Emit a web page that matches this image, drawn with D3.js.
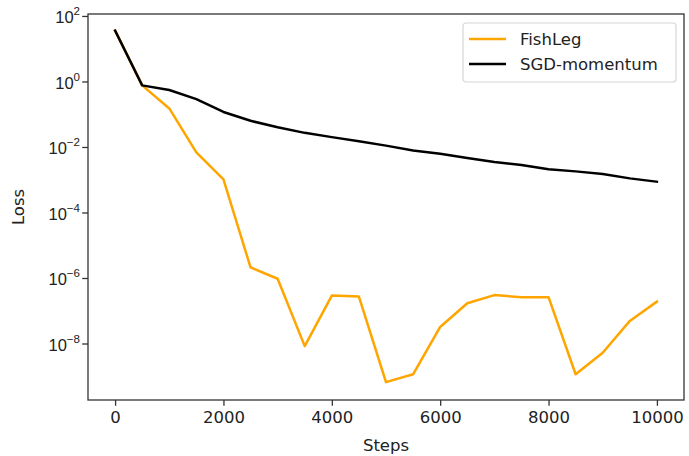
<!DOCTYPE html>
<html>
<head>
<meta charset="utf-8">
<script src="https://cdn.jsdelivr.net/npm/d3@7"></script>
<style>
  body { margin: 0; background: #fff; }
  svg { font-family: "DejaVu Sans", sans-serif; }
</style>
</head>
<body>
<svg id="chart" width="689" height="456"></svg>
<script>
const steps = [0, 500, 1000, 1500, 2000, 2500, 3000, 3500, 4000, 4500, 5000,
  5500, 6000, 6500, 7000, 7500, 8000, 8500, 9000, 9500, 10000];

const fishLeg = [35.6, 0.76, 0.15, 0.0068, 0.00103, 2.1e-6, 9.5e-7, 8.3e-9, 2.9e-7, 2.7e-7, 6.6e-10,
  1.15e-9, 3.2e-8, 1.7e-7, 3.0e-7, 2.6e-7, 2.6e-7, 1.15e-9, 5.2e-9, 4.9e-8, 1.9e-7];

const sgdMomentum = [35.6, 0.76, 0.55, 0.29, 0.117, 0.063, 0.04, 0.027, 0.020, 0.015, 0.011,
  0.0078, 0.0062, 0.0046, 0.0035, 0.0028, 0.0021, 0.0018, 0.0015, 0.0011, 0.00087];

const xTicks = [0, 2000, 4000, 6000, 8000, 10000];
const yTickExps = [2, 0, -2, -4, -6, -8];

const series = [
  { name: "FishLeg", values: fishLeg, color: "#FFA500" },
  { name: "SGD-momentum", values: sgdMomentum, color: "#000000" }
];

const plot = { left: 88, right: 684, top: 14, bottom: 400 };
const fontSize = 16.5;

const svg = d3.select("#chart");

const x = d3.scaleLinear()
  .domain([-500, 10500])
  .range([plot.left, plot.right]);

const y = d3.scaleLog()
  .domain([Math.pow(10, -9.725), Math.pow(10, 2.06)])
  .range([plot.bottom, plot.top]);

// lines
const line = d3.line()
  .x((d, i) => x(steps[i]))
  .y(d => y(d));

const lines = svg.append("g")
  .attr("clip-path", "url(#clip)");

svg.append("clipPath").attr("id", "clip")
  .append("rect")
  .attr("x", plot.left).attr("y", plot.top)
  .attr("width", plot.right - plot.left)
  .attr("height", plot.bottom - plot.top);

series.forEach(s => {
  lines.append("path")
    .datum(s.values)
    .attr("fill", "none")
    .attr("stroke", s.color)
    .attr("stroke-width", 2.5)
    .attr("stroke-linejoin", "round")
    .attr("stroke-linecap", "square")
    .attr("d", line);
});

// x axis
const xAxis = d3.axisBottom(x)
  .tickValues(xTicks)
  .tickSize(5.8)
  .tickPadding(5)
  .tickFormat(d3.format("d"));

const gx = svg.append("g")
  .attr("transform", `translate(0,${plot.bottom})`)
  .call(xAxis);
gx.select(".domain").remove();
gx.selectAll(".tick line").attr("stroke", "#333").attr("stroke-width", 1.3);
gx.selectAll(".tick text")
  .attr("fill", "#222")
  .style("font-size", fontSize + "px")
  .style("font-family", "DejaVu Sans");

// y axis
const yAxis = d3.axisLeft(y)
  .tickValues(yTickExps.map(e => Math.pow(10, e)))
  .tickSize(5.8)
  .tickFormat("");

const gy = svg.append("g")
  .attr("transform", `translate(${plot.left},0)`)
  .call(yAxis);
gy.select(".domain").remove();
gy.selectAll(".tick line").attr("stroke", "#333").attr("stroke-width", 1.3);

gy.selectAll(".tick").each(function(d) {
  const e = Math.round(Math.log10(d));
  const t = d3.select(this).append("text")
    .attr("x", -8)
    .attr("y", 7)
    .attr("text-anchor", "end")
    .attr("fill", "#222")
    .style("font-size", fontSize + "px");
  t.append("tspan").text("10");
  t.append("tspan")
    .attr("dy", -8)
    .style("font-size", (fontSize * 0.7) + "px")
    .text(e < 0 ? "\u2212" + (-e) : String(e));
});

// frame
svg.append("rect")
  .attr("x", plot.left).attr("y", plot.top)
  .attr("width", plot.right - plot.left)
  .attr("height", plot.bottom - plot.top)
  .attr("fill", "none")
  .attr("stroke", "#333")
  .attr("stroke-width", 1.3);

// axis labels
svg.append("text")
  .attr("x", (plot.left + plot.right) / 2)
  .attr("y", 451)
  .attr("text-anchor", "middle")
  .attr("fill", "#222")
  .style("font-size", fontSize + "px")
  .text("Steps");

svg.append("text")
  .attr("transform", `translate(24,${(plot.top + plot.bottom) / 2}) rotate(-90)`)
  .attr("text-anchor", "middle")
  .attr("fill", "#222")
  .style("font-size", fontSize + "px")
  .text("Loss");

// legend
const legend = svg.append("g").attr("transform", "translate(463,23)");
legend.append("rect")
  .attr("width", 213).attr("height", 59)
  .attr("rx", 3)
  .attr("fill", "#fff").attr("fill-opacity", 0.8)
  .attr("stroke", "#d6d6d6").attr("stroke-width", 1.2);

series.forEach((s, i) => {
  const ly = 16 + i * 25;
  legend.append("line")
    .attr("x1", 6).attr("x2", 43)
    .attr("y1", ly).attr("y2", ly)
    .attr("stroke", s.color).attr("stroke-width", 2.5);
  legend.append("text")
    .attr("x", 57).attr("y", ly + 6)
    .attr("fill", "#222")
    .style("font-size", fontSize + "px")
    .text(s.name);
});
</script>
</body>
</html>
